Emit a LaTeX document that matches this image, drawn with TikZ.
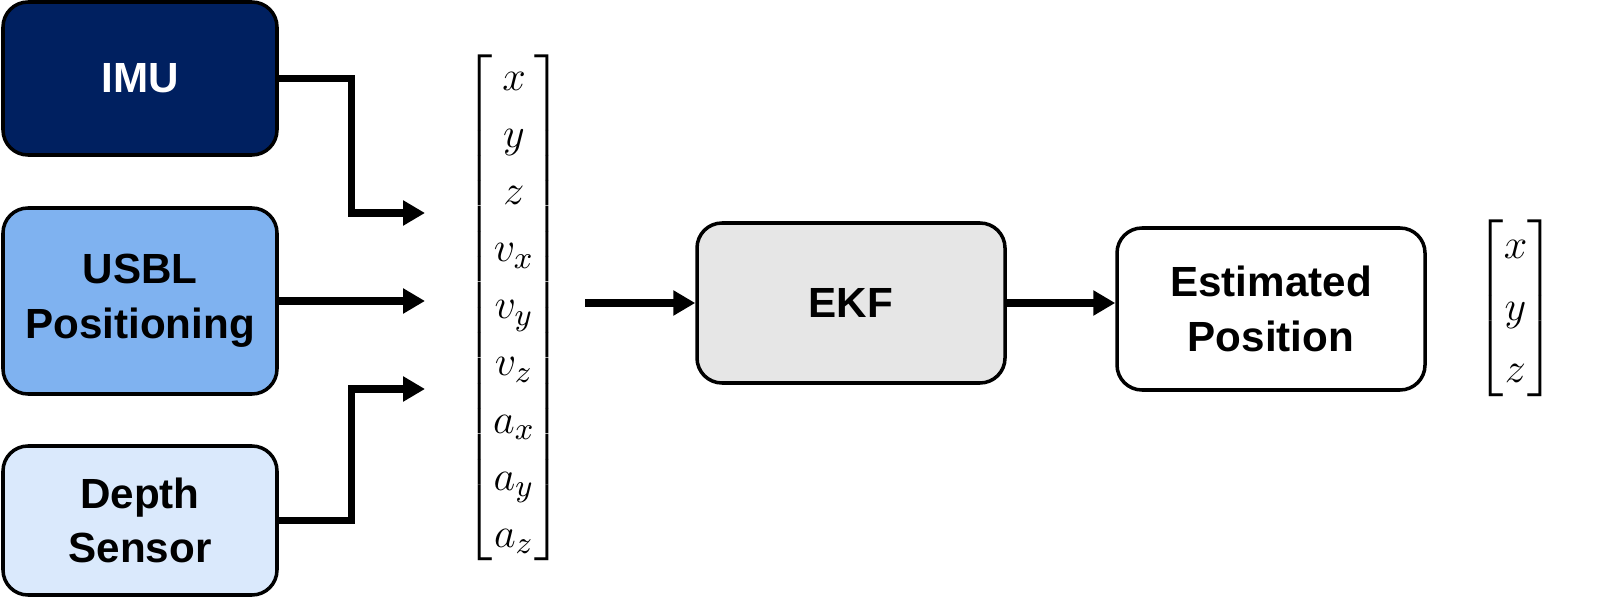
\documentclass[tikz,border=0pt]{standalone}
\usepackage{amsmath}
\usepackage{fontspec}
\setmainfont{Liberation Sans}
\usetikzlibrary{arrows.meta}

\definecolor{imublue}{RGB}{0,32,96}
\definecolor{usblblue}{RGB}{127,178,240}
\definecolor{depthblue}{RGB}{218,233,252}
\definecolor{ekfgrey}{RGB}{230,230,230}

\tikzset{block/.style={draw,line width=1pt,rounded corners=0.25cm,minimum width=2.74cm,align=center,font=\fontsize{12}{15.6}\selectfont\bfseries}}
\tikzset{flow/.style={line width=2pt,-{Triangle[length=0.22cm,width=0.24cm]}}}

\begin{document}
\begin{tikzpicture}
                  \useasboundingbox (0,0) rectangle (16,-6.01);
                  \node[block,fill=imublue,text=white,minimum height=1.53cm] (imu) at (1.40,-0.785) {IMU};
                  \node[block,fill=usblblue,minimum height=1.86cm] (usbl) at (1.40,-3.01) {USBL\\Positioning};
                  \node[block,fill=depthblue,minimum height=1.49cm] (depth) at (1.40,-5.205) {Depth\\Sensor};
                  \node[inner sep=0pt,font=\fontsize{12.4}{14}\selectfont] (state) at (5.14,-3.075) {\renewcommand{\arraystretch}{1.16}$\begin{bmatrix}x\\y\\z\\v_x\\v_y\\v_z\\a_x\\a_y\\a_z\end{bmatrix}$};
                  \node[block,fill=ekfgrey,minimum width=3.08cm,minimum height=1.60cm] (ekf) at (8.51,-3.03) {EKF};
                  \node[block,fill=white,minimum width=3.08cm,minimum height=1.62cm] (est) at (12.71,-3.09) {Estimated\\Position};
                  \node[inner sep=0pt,font=\fontsize{12.4}{14}\selectfont] (pos) at (15.155,-3.08) {\renewcommand{\arraystretch}{1.26}$\begin{bmatrix}x\\y\\z\end{bmatrix}$};
                  \coordinate (in1) at (4.25,-2.13);
                  \coordinate (in2) at (4.25,-3.01);
                  \coordinate (in3) at (4.25,-3.89);
                  \coordinate (out1) at (5.85,-3.03);
                  \draw[flow] (imu.east) -- ++(0.73,0) |- (in1);
                  \draw[flow] (usbl.east) -- (in2);
                  \draw[flow] (depth.east) -- ++(0.73,0) |- (in3);
                  \draw[flow] (out1) -- (ekf.west);
                  \draw[flow] (ekf.east) -- (est.west |- ekf.east);
              \end{tikzpicture}
\end{document}
